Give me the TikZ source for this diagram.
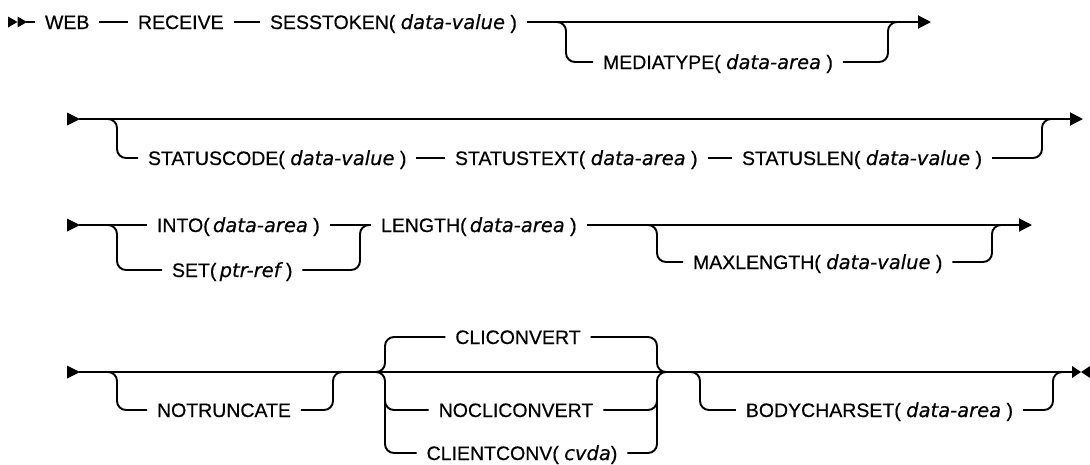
\documentclass[tikz,border=0pt]{standalone}
\usepackage{fontspec}
\setmainfont{Liberation Sans}
\newfontfamily\argfont{DejaVu Sans}
\newcommand\prm[1]{{\argfont\itshape\addfontfeature{FakeBold=0.5}#1}}
\usetikzlibrary{arrows.meta}
\begin{document}
\begin{tikzpicture}[x=1pt,y=-1pt,
  lbl/.style={font=\fontsize{19.5}{23}\selectfont\addfontfeature{FakeBold=0.5}, inner sep=0pt,
    text height=14pt, text depth=0pt, outer xsep=10pt, outer ysep=0pt, anchor=west},
  rail/.style={line width=1.9pt},
  br/.style={rail, rounded corners=9pt},
  endarrow/.style={-{Triangle[length=13pt,width=13pt]}}]
\useasboundingbox (0,0) rectangle (1090,464);

% ---- row 1: WEB RECEIVE SESSTOKEN [MEDIATYPE]
\fill (8,16.5) -- (17.5,22) -- (8,27.5) -- cycle;
\fill (17.5,16.5) -- (27,22) -- (17.5,27.5) -- cycle;
\coordinate (s1) at (26,22);
\coordinate (r1end) at (931,22);
\node[lbl] (web) at (35,22) {WEB};
\node[lbl] (rcv) at (128,22) {RECEIVE};
\node[lbl] (sess) at (260,22) {SESSTOKEN( \prm{data-value} )};
\node[lbl] (media) at (593,62) {MEDIATYPE( \prm{data-area} )};
\draw[rail] (s1) -- (web.west);
\draw[rail] (web.east) -- (rcv.west);
\draw[rail] (rcv.east) -- (sess.west);
\draw[rail,endarrow] (sess.east) -- (r1end);
\draw[br] (548,22) -- (566,22) -- (566,62) -- (media.west);
\draw[br] (media.east) -- (888,62) -- (888,22) -- (897,22);

% ---- row 2: [STATUSCODE STATUSTEXT STATUSLEN]
\fill (67,112.5) -- (80,119) -- (67,125.5) -- cycle;
\coordinate (s2) at (79,119);
\coordinate (r2end) at (1083,119);
\node[lbl] (stc) at (138,158) {STATUSCODE( \prm{data-value} )};
\node[lbl] (stt) at (445,158) {STATUSTEXT( \prm{data-area} )};
\node[lbl] (stl) at (732,158) {STATUSLEN( \prm{data-value} )};
\draw[rail,endarrow] (s2) -- (r2end);
\draw[br] (108,119) -- (117,119) -- (117,158) -- (stc.west);
\draw[rail] (stc.east) -- (stt.west);
\draw[rail] (stt.east) -- (stl.west);
\draw[br] (stl.east) -- (1042,158) -- (1042,119) -- (1051,119);

% ---- row 3: INTO | SET, LENGTH [MAXLENGTH]
\fill (67,218.5) -- (80,225) -- (67,231.5) -- cycle;
\coordinate (s3) at (79,225);
\coordinate (r3end) at (1032,225);
\node[lbl] (into) at (147,225) {INTO(\,\prm{data-area} )};
\node[lbl] (set) at (162,270) {SET(\,\prm{ptr-ref} )};
\node[lbl] (len) at (371,225) {LENGTH(\,\prm{data-area} )};
\node[lbl] (maxl) at (683,262) {MAXLENGTH( \prm{data-value} )};
\draw[rail] (s3) -- (into.west);
\draw[br] (108,225) -- (117,225) -- (117,270) -- (set.west);
\draw[rail] (into.east) -- (len.west);
\draw[br] (set.east) -- (360,270) -- (360,225) -- (369,225);
\draw[rail,endarrow] (len.east) -- (r3end);
\draw[br] (648,225) -- (657,225) -- (657,262) -- (maxl.west);
\draw[br] (maxl.east) -- (992,262) -- (992,225) -- (1001,225);

% ---- row 4: [NOTRUNCATE] {CLICONVERT|NOCLICONVERT|CLIENTCONV} [BODYCHARSET]
\fill (67,365.5) -- (80,372) -- (67,378.5) -- cycle;
\coordinate (s4) at (79,372);
\coordinate (r4end) at (1072,372);
\node[lbl] (notr) at (147,410) {NOTRUNCATE};
\node[lbl,anchor=center] (cli) at (518,337) {CLICONVERT};
\node[lbl,anchor=center] (nocli) at (516,410) {NOCLICONVERT};
\node[lbl,anchor=center] (cconv) at (522,453) {CLIENTCONV( \prm{cvda})};
\node[lbl,anchor=east] (body) at (1023,410) {BODYCHARSET( \prm{data-area} )};
\draw[rail] (s4) -- (r4end);
\draw[br] (108,372) -- (117,372) -- (117,410) -- (notr.west);
\draw[br] (notr.east) -- (333,410) -- (333,372) -- (342,372);
\draw[br] (376,372) -- (385,372) -- (385,337) -- (cli.west);
\draw[br] (376,372) -- (385,372) -- (385,453) -- (cconv.west);
\draw[br] (385,385) -- (385,410) -- (nocli.west);
\draw[br] (cli.east) -- (657,337) -- (657,372) -- (666,372);
\draw[br] (cconv.east) -- (657,453) -- (657,372) -- (666,372);
\draw[br] (nocli.east) -- (657,410) -- (657,395);
\draw[br] (691,372) -- (700,372) -- (700,410) -- (body.west);
\draw[br] (body.east) -- (1053,410) -- (1053,372) -- (1062,372);
\fill (1072,366) -- (1081,372) -- (1072,378) -- cycle;
\fill (1090,366) -- (1081,372) -- (1090,378) -- cycle;
\end{tikzpicture}
\end{document}
